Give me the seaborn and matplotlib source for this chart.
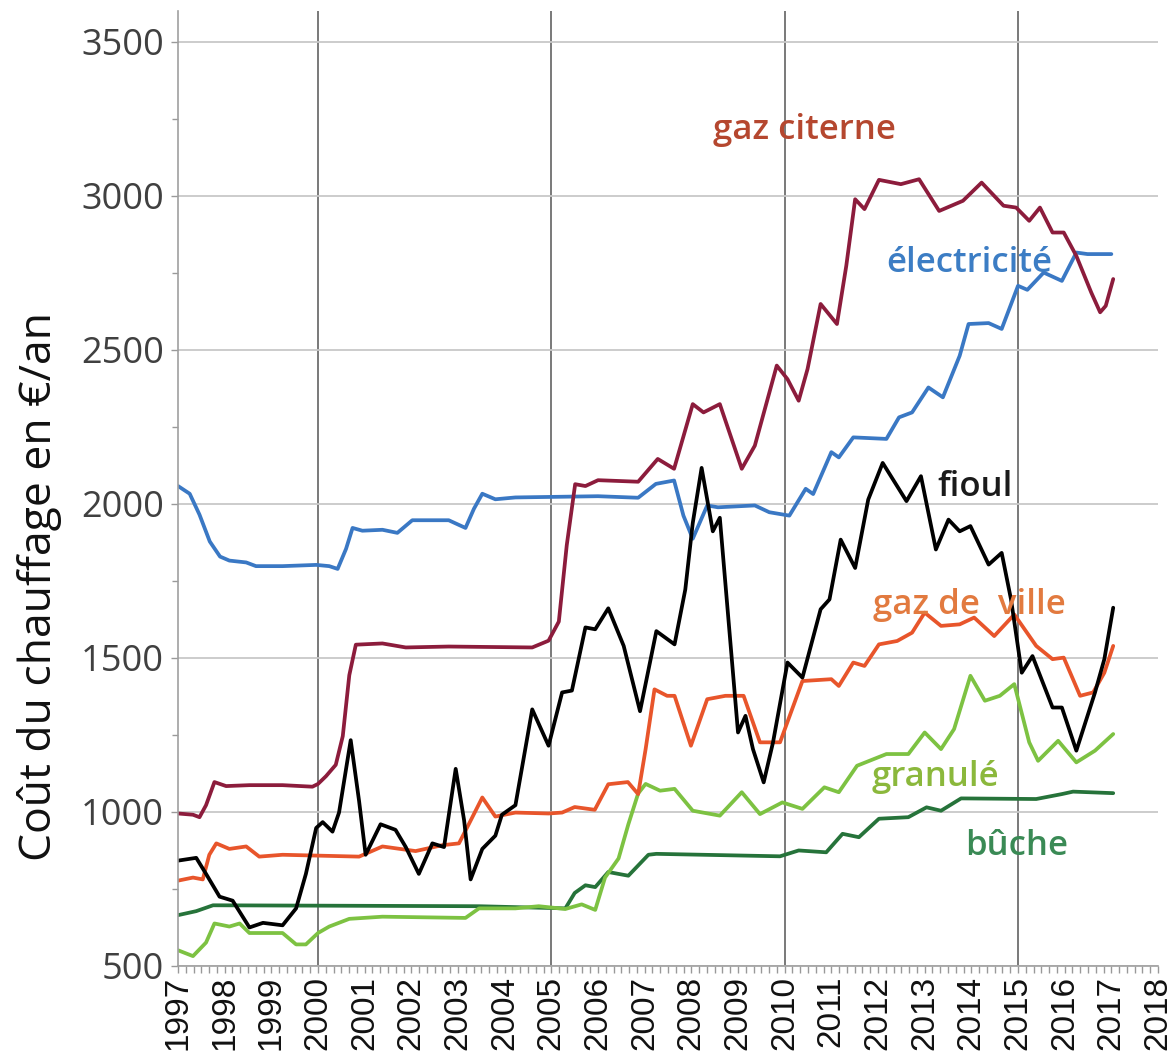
import pandas as pd
import seaborn as sns
import matplotlib.pyplot as plt
from matplotlib.ticker import MultipleLocator

# Values (year, €/an)
elec_x = [1997.0, 1997.25, 1997.46, 1997.68, 1997.9, 1998.1, 1998.46, 1998.67, 1999.24, 1999.96,
          2000.24, 2000.42, 2000.6, 2000.74, 2000.95, 2001.38, 2001.7, 2002.02, 2002.8, 2003.16,
          2003.34, 2003.52, 2003.8, 2004.23, 2006.0, 2006.86, 2007.24, 2007.63, 2007.83, 2008.03,
          2008.34, 2008.57, 2009.36, 2009.67, 2010.1, 2010.45, 2010.61, 2011.0, 2011.16, 2011.47,
          2012.18, 2012.45, 2012.73, 2013.08, 2013.39, 2013.75, 2013.94, 2014.37, 2014.65, 2015.0,
          2015.2, 2015.55, 2015.94, 2016.25, 2016.49, 2017.0]
elec_y = [2058, 2033, 1965, 1878, 1829, 1816, 1810, 1798, 1798, 1802,
          1798, 1789, 1854, 1922, 1913, 1916, 1906, 1947, 1947, 1922,
          1984, 2033, 2015, 2021, 2025, 2020, 2065, 2076, 1962, 1887,
          1995, 1989, 1995, 1973, 1962, 2049, 2032, 2168, 2151, 2216,
          2211, 2281, 2297, 2378, 2346, 2481, 2584, 2587, 2568, 2708,
          2695, 2751, 2724, 2816, 2811, 2811]

citerne_x = [1997.0, 1997.32, 1997.46, 1997.6, 1997.78, 1998.03, 1998.53, 1999.24, 1999.88, 2000.0,
             2000.17, 2000.38, 2000.53, 2000.67, 2000.81, 2001.38, 2001.88, 2002.8, 2004.59, 2004.94,
             2005.16, 2005.33, 2005.51, 2005.73, 2006.0, 2006.86, 2007.28, 2007.63, 2008.03, 2008.26,
             2008.61, 2009.08, 2009.36, 2009.83, 2010.06, 2010.3, 2010.49, 2010.77, 2011.12, 2011.32,
             2011.51, 2011.71, 2012.02, 2012.49, 2012.88, 2013.31, 2013.82, 2014.22, 2014.69, 2014.96,
             2015.24, 2015.47, 2015.74, 2015.98, 2016.25, 2016.57, 2016.76, 2016.88, 2017.04]
citerne_y = [995, 991, 983, 1022, 1097, 1084, 1087, 1087, 1082, 1091,
             1116, 1153, 1246, 1444, 1543, 1547, 1534, 1537, 1534, 1556,
             1618, 1866, 2064, 2058, 2077, 2072, 2146, 2114, 2324, 2297,
             2324, 2114, 2189, 2449, 2405, 2335, 2438, 2649, 2584, 2773,
             2989, 2957, 3052, 3038, 3054, 2951, 2984, 3043, 2968, 2962,
             2919, 2962, 2881, 2881, 2805, 2686, 2622, 2643, 2730]

fioul_x = [1997.0, 1997.39, 1997.6, 1997.89, 1998.17, 1998.53, 1998.82, 1999.24, 1999.53, 1999.74,
           1999.96, 2000.1, 2000.31, 2000.45, 2000.7, 2000.88, 2001.02, 2001.34, 2001.66, 2001.88,
           2002.16, 2002.45, 2002.7, 2002.95, 2003.13, 2003.27, 2003.52, 2003.8, 2003.94, 2004.23,
           2004.59, 2004.94, 2005.23, 2005.44, 2005.73, 2005.94, 2006.22, 2006.55, 2006.9, 2007.25,
           2007.64, 2007.87, 2008.03, 2008.22, 2008.46, 2008.61, 2009.0, 2009.16, 2009.32, 2009.55,
           2009.75, 2010.06, 2010.38, 2010.77, 2010.96, 2011.2, 2011.51, 2011.79, 2012.1, 2012.61,
           2012.92, 2013.24, 2013.51, 2013.75, 2013.98, 2014.37, 2014.65, 2014.85, 2015.08, 2015.31,
           2015.74, 2015.94, 2016.25, 2016.65, 2016.85, 2017.04]
fioul_y = [842, 851, 799, 725, 712, 625, 640, 632, 687, 799,
           948, 967, 936, 998, 1233, 1035, 861, 960, 942, 886,
           799, 898, 886, 1140, 973, 781, 880, 923, 991, 1022,
           1333, 1215, 1388, 1394, 1599, 1593, 1661, 1539, 1327, 1587,
           1544, 1722, 1938, 2117, 1911, 1955, 1258, 1312, 1204, 1096,
           1226, 1485, 1436, 1658, 1690, 1884, 1792, 2014, 2133, 2009,
           2090, 1852, 1949, 1911, 1928, 1803, 1841, 1690, 1452, 1506,
           1339, 1339, 1199, 1388, 1496, 1663]

ville_x = [1997.0, 1997.32, 1997.53, 1997.67, 1997.82, 1998.1, 1998.46, 1998.74, 1999.24, 2000.88,
           2001.38, 2002.09, 2002.66, 2003.02, 2003.23, 2003.52, 2003.8, 2004.23, 2004.94, 2005.23,
           2005.5, 2005.93, 2006.22, 2006.64, 2006.86, 2007.02, 2007.21, 2007.48, 2007.64, 2007.99,
           2008.34, 2008.73, 2009.12, 2009.47, 2009.9, 2010.38, 2011.0, 2011.16, 2011.47, 2011.71,
           2012.02, 2012.41, 2012.73, 2013.0, 2013.35, 2013.75, 2014.06, 2014.49, 2014.92, 2015.39,
           2015.74, 2015.98, 2016.33, 2016.61, 2016.85, 2017.04]
ville_y = [777, 787, 781, 861, 898, 880, 888, 855, 861, 855,
           888, 873, 892, 898, 960, 1047, 985, 998, 995, 998,
           1016, 1007, 1090, 1097, 1058, 1204, 1398, 1377, 1377, 1215,
           1366, 1377, 1377, 1226, 1226, 1425, 1431, 1409, 1485, 1474,
           1544, 1555, 1582, 1647, 1604, 1609, 1631, 1571, 1641, 1539,
           1496, 1501, 1377, 1388, 1452, 1539]

granule_x = [1997.0, 1997.32, 1997.6, 1997.78, 1998.1, 1998.32, 1998.53, 1999.24, 1999.53, 1999.74,
             2000.0, 2000.24, 2000.67, 2001.38, 2003.16, 2003.45, 2004.23, 2004.73, 2005.3, 2005.65,
             2005.94, 2006.15, 2006.44, 2006.65, 2006.86, 2007.02, 2007.33, 2007.64, 2008.03, 2008.61,
             2009.08, 2009.47, 2009.95, 2010.38, 2010.85, 2011.16, 2011.55, 2012.18, 2012.65, 2013.0,
             2013.35, 2013.63, 2013.98, 2014.29, 2014.61, 2014.92, 2015.24, 2015.43, 2015.86, 2016.25,
             2016.65, 2017.04]
granule_y = [551, 532, 576, 638, 628, 638, 607, 607, 570, 570,
             607, 628, 653, 660, 656, 687, 687, 694, 685, 700,
             682, 787, 849, 960, 1060, 1091, 1069, 1075, 1004, 988,
             1064, 993, 1031, 1010, 1080, 1064, 1150, 1188, 1188, 1258,
             1204, 1269, 1442, 1361, 1377, 1415, 1226, 1166, 1231, 1161,
             1199, 1253]

buche_x = [1997.0, 1997.39, 1997.75, 2003.45, 2005.3, 2005.5, 2005.73, 2005.94, 2006.22, 2006.65,
           2007.08, 2007.25, 2009.9, 2010.3, 2010.89, 2011.24, 2011.59, 2012.02, 2012.65, 2013.04,
           2013.35, 2013.78, 2015.39, 2015.94, 2016.18, 2017.04]
buche_y = [665, 678, 697, 694, 687, 737, 762, 756, 805, 793,
           861, 864, 856, 875, 869, 929, 918, 978, 983, 1015,
           1004, 1044, 1042, 1058, 1066, 1061]

# drawing order: first drawn ends up below
series = ["bûche", "granulé", "gaz de ville", "électricité", "gaz citerne", "fioul"]
line_colors = {"bûche": "#26733a", "granulé": "#7dc242", "gaz de ville": "#e8552b",
               "électricité": "#3a78c4", "gaz citerne": "#8c1c3c", "fioul": "#000000"}
xs = {"bûche": buche_x, "granulé": granule_x, "gaz de ville": ville_x,
      "électricité": elec_x, "gaz citerne": citerne_x, "fioul": fioul_x}
ys = {"bûche": buche_y, "granulé": granule_y, "gaz de ville": ville_y,
      "électricité": elec_y, "gaz citerne": citerne_y, "fioul": fioul_y}

df = pd.concat([pd.DataFrame({"annee": xs[s], "cout": ys[s], "energie": s}) for s in series],
               ignore_index=True)

# label texts, positions and colours
labels = ["gaz citerne", "électricité", "fioul", "gaz de  ville", "granulé", "bûche"]
label_x = [2010.43, 2013.95, 2014.08, 2013.95, 2013.24, 2014.98]
label_y = [3215, 2782, 2055, 1672, 1113, 889]
label_colors = ["#b5472f", "#3c7dc4", "#1a1a1a", "#e27a3f", "#8bb83c", "#3a8a55"]

sns.set_style("white")
plt.rcParams["font.family"] = ["Open Sans", "DejaVu Sans"]

fig = plt.figure(figsize=(11.69, 10.51), dpi=100)
ax = fig.add_axes([0.1523, 0.0809, 0.8383, 0.9086])

# grid lines
ax.yaxis.grid(True, color="#c8c8c8", lw=1.3, zorder=0)
for yr in [2000, 2005, 2010, 2015]:
    ax.axvline(yr, color="#555555", lw=1.1, zorder=0.5)

sns.lineplot(data=df, x="annee", y="cout", hue="energie", hue_order=series,
             palette=line_colors, estimator=None, lw=2.7, legend=False, ax=ax)

for t, x, y, c in zip(labels, label_x, label_y, label_colors):
    ax.text(x, y, t, color=c, fontsize=25, fontweight="semibold", ha="center", va="center")

ax.set_xlim(1997, 2018)
ax.set_ylim(500, 3600)
ax.set_xticks(range(1997, 2019))
ax.set_xticklabels([str(y) for y in range(1997, 2019)], rotation=90, va="top",
                   family=["Liberation Sans"], fontsize=24, color="#111111")
ax.xaxis.set_minor_locator(MultipleLocator(1 / 6))
ax.set_yticks(range(500, 3501, 500))
ax.yaxis.set_minor_locator(MultipleLocator(250))
ax.tick_params(axis="y", which="major", labelsize=26, labelcolor="#404040",
               length=5, width=1, color="#999999", pad=5, left=True)
ax.tick_params(axis="y", which="minor", length=4, width=1, color="#999999", left=True)
ax.tick_params(axis="x", which="both", length=5, width=1, color="#999999", pad=2, bottom=True)

for side in ["top", "right"]:
    ax.spines[side].set_visible(False)
for side in ["left", "bottom"]:
    ax.spines[side].set_color("#a0a0a0")
    ax.spines[side].set_linewidth(1.2)

ax.set_xlabel("")
ax.set_ylabel("Coût du chauffage en €/an", fontsize=32, color="#111111")
ax.yaxis.set_label_coords(-0.118, 0.397)

fig.savefig("out.png", dpi=100)
